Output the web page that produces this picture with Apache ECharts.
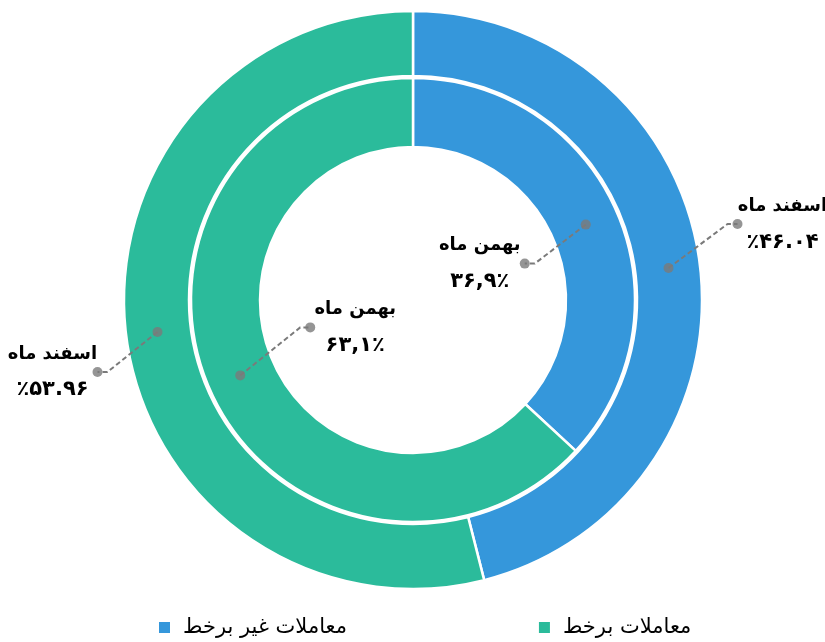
<!DOCTYPE html>
<html>
<head>
<meta charset="utf-8">
<script src="https://cdn.jsdelivr.net/npm/echarts@6/dist/echarts.min.js"></script>
<style>
  html, body { margin: 0; padding: 0; background: #fff; }
  #chart { width: 825px; height: 642px; }
</style>
</head>
<body>
<div id="chart"></div>
<script>
// data
var categories = ['معاملات غیر برخط', 'معاملات برخط'];
var months = ['اسفند ماه', 'بهمن ماه'];          // outer ring, inner ring
var esfandValues = [46.04, 53.96];
var bahmanValues = [36.9, 63.1];
var colors = ['#3597db', '#2bbb9b'];

var CX = 413, CY = 300;
var rings = [[224, 289], [153, 222]];
// leader line bend offset from the dot inside the ring
var bends = [[[59, -44], [-50, 40]], [[-51, 39], [60, -48]]];

function fa(str) {
  return String(str).replace(/[0-9]/g, function (d) { return '۰۱۲۳۴۵۶۷۸۹'[d]; });
}
function pctLabel(ring, v) {
  if (ring === 0) return '٪' + fa(v.toFixed(2));
  return fa(String(v).replace('.', ',')) + '٪';
}
function toPolar(pt) {
  var dx = pt[0] - CX, dy = pt[1] - CY;
  var a = Math.atan2(dx, -dy) * 180 / Math.PI;
  if (a < 0) a += 360;
  return [Math.sqrt(dx * dx + dy * dy), a / 3.6];
}

var allValues = [esfandValues, bahmanValues];
var leaders = [];
var dotData = [];
var lineData = [];
allValues.forEach(function (vals, s) {
  var acc = 0;
  leaders[s] = [];
  var rMid = (rings[s][0] + rings[s][1]) / 2 + 1;
  vals.forEach(function (v, i) {
    var mid = acc + v / 2;
    acc += v;
    var th = mid * 3.6 * Math.PI / 180;
    var ring = [CX + rMid * Math.sin(th), CY - rMid * Math.cos(th)];
    var b = bends[s][i];
    var bend = [ring[0] + b[0], ring[1] + b[1]];
    var dir = b[0] > 0 ? 1 : -1;
    var end = [bend[0] + dir * 10, bend[1]];
    leaders[s][i] = { lx: end[0] + dir * 45, ly: end[1] };
    dotData.push([rMid, mid], toPolar(end));
    lineData.push([rMid, mid], toPolar(bend), toPolar(end), '-');
  });
});

function pieSeries(s) {
  return {
    type: 'pie',
    center: [CX, CY],
    radius: rings[s],
    startAngle: 90,
    clockwise: true,
    avoidLabelOverlap: false,
    silent: true,
    itemStyle: { borderColor: '#fff', borderWidth: 2.5 },
    label: {
      show: true,
      position: 'outside',
      color: '#000',
      formatter: function (p) { return '{t|' + months[s] + '}\n{p|' + pctLabel(s, p.value) + '}'; },
      rich: {
        t: { fontFamily: 'DejaVu Sans', fontWeight: 'bold', fontSize: 18, lineHeight: 36, color: '#000' },
        p: { fontFamily: 'DejaVu Sans', fontWeight: 'bold', fontSize: 21, lineHeight: 36, color: '#000' }
      }
    },
    labelLine: { show: false },
    labelLayout: function (p) {
      var L = leaders[s][p.dataIndex];
      return { x: L.lx, y: L.ly, align: 'center', verticalAlign: 'middle' };
    },
    data: categories.map(function (c, i) {
      return { name: c, value: allValues[s][i], itemStyle: { color: colors[i] } };
    })
  };
}

var chart = echarts.init(document.getElementById('chart'));
chart.setOption({
  animation: false,
  color: colors,
  polar: { center: [CX, CY], radius: 400 },
  angleAxis: { type: 'value', min: 0, max: 100, startAngle: 90, clockwise: true, show: false },
  radiusAxis: { type: 'value', min: 0, max: 400, show: false },
  legend: {
    bottom: 4,
    left: 157,
    padding: 0,
    itemGap: 190,
    itemWidth: 13,
    itemHeight: 13,
    icon: 'rect',
    textStyle: { fontFamily: 'DejaVu Sans', fontSize: 21, color: '#000', padding: [0, 0, 0, 7] },
    data: categories
  },
  series: [
    pieSeries(0),
    pieSeries(1),
    {
      type: 'line',
      coordinateSystem: 'polar',
      symbol: 'none',
      silent: true,
      connectNulls: false,
      z: 9,
      lineStyle: { color: '#7a7a7a', width: 2, type: [5, 3] },
      data: lineData
    },
    {
      type: 'scatter',
      coordinateSystem: 'polar',
      symbol: 'circle',
      symbolSize: 10,
      silent: true,
      z: 10,
      itemStyle: { color: '#7a7a7a' },
      data: dotData
    }
  ]
});
</script>
</body>
</html>
